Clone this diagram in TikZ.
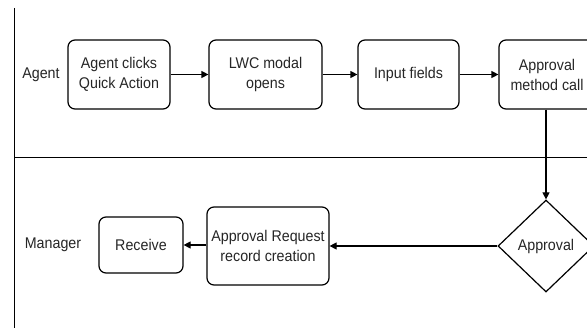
\documentclass[tikz,border=0pt]{standalone}
\usepackage{fontspec}
\setmainfont[FakeStretch=0.92]{Liberation Sans}
\usetikzlibrary{shapes.geometric,arrows.meta}
\begin{document}
\begin{tikzpicture}[x=1pt,y=-1pt,
  every node/.style={font=\fontsize{15.5}{20}\selectfont, text=black!85},
  proc/.style={draw, rounded corners=7pt, line width=1.2pt, align=center, inner sep=0pt},
  dec/.style={draw, diamond, line width=1.2pt, inner sep=0pt, minimum width=96pt, minimum height=92pt},
  flow/.style={line width=1.2pt, -{Triangle[length=7pt,width=7pt]}},
  lane/.style={line width=1pt}]
\useasboundingbox (0,0) rectangle (587,328);
\clip (0,0) rectangle (587,328);
\fill[white] (0,0) rectangle (587,328);
% lanes
\coordinate (vt) at (14,8);
\coordinate (vb) at (14,330);
\coordinate (hl) at (14,158);
\coordinate (hr) at (590,158);
\draw[lane] (vt) -- (vb);
\draw[lane] (hl) -- (hr);
\node (agent) at (41,75) {Agent};
\node (manager) at (53,245) {Manager};
% row 1
\node[proc, minimum width=102pt, minimum height=69pt] (a1) at (119,74.5) {Agent clicks\\Quick Action};
\node[proc, minimum width=113pt, minimum height=69pt] (a2) at (265.5,74.5) {LWC modal\\opens};
\node[proc, minimum width=101pt, minimum height=69pt] (a3) at (408.5,74.5) {Input fields};
\node[proc, minimum width=96pt, minimum height=69pt] (a4) at (547,74.5) {Approval\\method call};
% row 2
\node[dec] (d) at (546,246) {Approval};
\node[proc, minimum width=122pt, minimum height=78pt] (r) at (268,246) {Approval Request\\record creation};
\node[proc, minimum width=84pt, minimum height=56pt] (rc) at (141,245) {Receive};
% connectors
\draw[flow] (a1) -- (a2);
\draw[flow] (a2) -- (a3);
\draw[flow] (a3) -- (a4);
\draw[flow] (a4.south -| d.north) -- (d.north);
\draw[flow] (d.west) -- (r.east |- d.west);
\draw[flow] (r.west |- rc.east) -- (rc.east);
\end{tikzpicture}
\end{document}
